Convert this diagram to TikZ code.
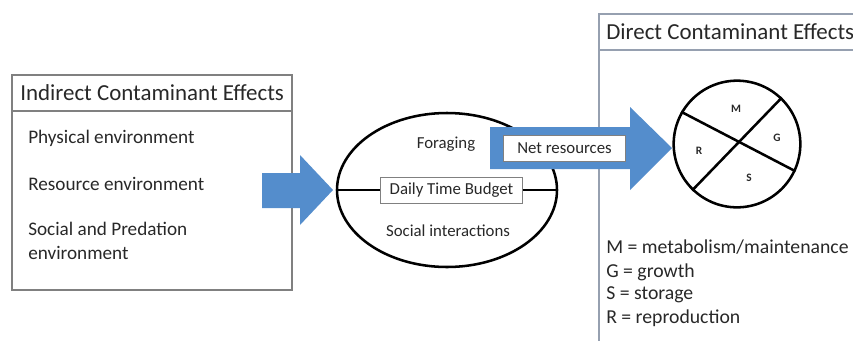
\documentclass[tikz,border=0pt]{standalone}
\usepackage{fontspec}
\setmainfont{Carlito}
\usepackage{xcolor}
\usepackage{tikz}
\usetikzlibrary{shapes,positioning,calc}

\definecolor{arrowblue}{RGB}{84,141,204}
\definecolor{boxgray}{RGB}{128,128,128}
\definecolor{rightgray}{RGB}{150,160,176}
\definecolor{txtgray}{RGB}{40,40,40}

\begin{document}
\begin{tikzpicture}[x=0.75pt,y=-0.75pt,
    frame/.style={draw=boxgray, line width=0.9pt},
    thick line/.style={line width=1.9pt},
    head/.style={font=\fontsize{17.2}{20}\selectfont, text=txtgray, inner sep=0, anchor=west},
    item/.style={font=\fontsize{14.4}{18}\selectfont, text=txtgray, inner sep=0, anchor=west, align=left},
    small/.style={font=\fontsize{12.6}{15}\selectfont, text=txtgray, inner sep=0},
    tag/.style={font=\fontsize{8.5}{9}\selectfont\bfseries, text=txtgray, inner sep=0},
    tbox/.style={draw=boxgray, fill=white, line width=0.8pt, small, minimum height=20pt}]

    \useasboundingbox (0,0) rectangle (853,340);

    % Indirect effects box
    \draw[frame] (12,75) rectangle (292,290);
    \draw[frame] (12,111) -- (292,111);
    \node[head] (indirect) at (20,93) {Indirect Contaminant Effects};
    \node[item] (phys) at (28,138) {Physical environment};
    \node[item] (res) at (28,184) {Resource environment};
    \node[item] (soc) at (28,241) {Social and Predation\\environment};

    % Direct effects box (runs off the page)
    \draw[draw=rightgray, line width=0.9pt] (860,14) -- (599,14) -- (599,345);
    \draw[draw=rightgray, line width=0.9pt] (599,50) -- (860,50);
    \node[head] (direct) at (606,32) {Direct Contaminant Effects};

    % Time budget
    \node[draw, ellipse, thick line, inner sep=0,
          minimum width=165pt, minimum height=115.5pt] (budget) at (447,190) {};
    \draw[thick line] (budget.west) -- (budget.east);
    \node[tbox, minimum width=107pt] (daily) at (451.5,190.5) {Daily Time Budget};
    \node[small] (forage) at (446,144) {Foraging};
    \node[small] (social) at (448,231) {Social interactions};

    % Block arrows
    \fill[arrowblue] (262,173) -- (300,173) -- (300,155) -- (333,190)
        -- (300,225) -- (300,208) -- (262,208) -- cycle;
    \fill[arrowblue] (490,127) -- (630,127) -- (630,107) -- (672,148)
        -- (630,190) -- (630,169) -- (490,169) -- cycle;
    \node[tbox, minimum width=92pt] (net) at (564.5,148.5) {Net resources};

    % Allocation pie
    \node[draw, circle, thick line, inner sep=0, minimum size=95pt] (pie) at (737,144) {};
    \draw[thick line] (pie.150) -- (pie.-25);
    \draw[thick line] (pie.226) -- (pie.46);
    \node[tag] (m) at (736,109) {M};
    \node[tag] (g) at (777,138) {G};
    \node[tag] (r) at (699,151) {R};
    \node[tag] (s) at (749,178) {S};

    % Legend
    \foreach \y/\t [count=\i] in {247/{M = metabolism/maintenance}, 272/{G = growth},
                                  295/{S = storage}, 318/{R = reproduction}}
        \node[item, font=\fontsize{14.8}{18}\selectfont] (key\i) at (606,\y) {\t};
\end{tikzpicture}
\end{document}
